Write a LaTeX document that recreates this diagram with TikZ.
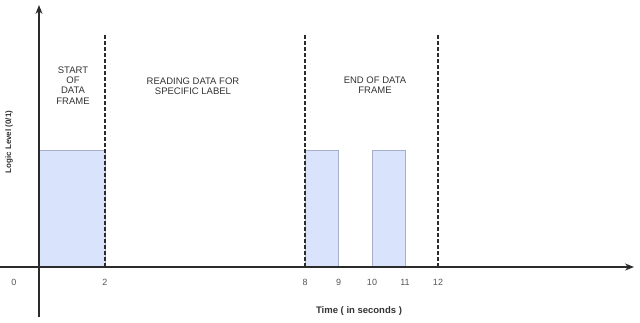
\documentclass[tikz,border=0pt]{standalone}
\usepackage{fontspec}
\setmainfont{Liberation Sans}
\usetikzlibrary{arrows.meta}
\definecolor{pulsefill}{HTML}{DAE3FC}
\definecolor{pulseedge}{HTML}{A6AFCC}
\definecolor{axiscol}{HTML}{2B2B2B}
\definecolor{txt}{HTML}{333333}
\definecolor{tickcol}{HTML}{555555}
\begin{document}
\begin{tikzpicture}[x=1pt,y=-1pt,
  axisline/.style={draw=axiscol,line width=1.3pt,-{Stealth[length=9pt,width=7pt]}},
  pulse/.style={fill=pulsefill,draw=pulseedge,line width=0.8pt},
  divider/.style={draw=axiscol,line width=1.3pt,dash pattern=on 3.5pt off 2.5pt},
  region/.style={font=\fontsize{9.5}{10.3}\selectfont,text=txt,align=center,inner sep=0pt},
  ticklabel/.style={font=\fontsize{9}{10}\selectfont,text=tickcol,inner sep=0pt},
  axistitle/.style={font=\bfseries\fontsize{9.5}{11}\selectfont,text=txt,inner sep=0pt}]
\useasboundingbox (0,0) rectangle (640,322);
% pulses
\draw[pulse] (39,150) rectangle (105,267);
\draw[pulse] (305,150) rectangle (338.5,267);
\draw[pulse] (372,150) rectangle (405,267);
% axes
\coordinate (ytop) at (39,5);
\coordinate (ybot) at (39,317);
\coordinate (xl) at (0,267);
\coordinate (xr) at (634,267);
\draw[axisline] (ybot) -- (ytop);
\draw[axisline] (xl) -- (xr);
% dividers
\coordinate (d2t) at (105,35);  \coordinate (d2b) at (105,267);
\coordinate (d8t) at (305,35);  \coordinate (d8b) at (305,267);
\coordinate (d12t) at (438,35); \coordinate (d12b) at (438,267);
\draw[divider] (d2t) -- (d2b);
\draw[divider] (d8t) -- (d8b);
\draw[divider] (d12t) -- (d12b);
% region labels
\node[region] (start) at (73,85.5) {START\\OF\\DATA\\FRAME};
\node[region] (reading) at (193,86) {READING DATA FOR\\SPECIFIC LABEL};
\node[region] (endf) at (375,85.5) {END OF DATA\\FRAME};
% tick labels
\node[ticklabel] (t0) at (14,282) {0};
\node[ticklabel] (t2) at (105,282) {2};
\node[ticklabel] (t8) at (305,282) {8};
\node[ticklabel] (t9) at (338.5,282) {9};
\node[ticklabel] (t10) at (372,282) {10};
\node[ticklabel] (t11) at (405,282) {11};
\node[ticklabel] (t12) at (438,282) {12};
% axis titles
\node[axistitle] (xtitle) at (359,311) {Time ( in seconds )};
\node[axistitle,font=\bfseries\fontsize{8}{9}\selectfont,rotate=90] (ytitle) at (9,142) {Logic Level (0/1)};
\end{tikzpicture}
\end{document}
